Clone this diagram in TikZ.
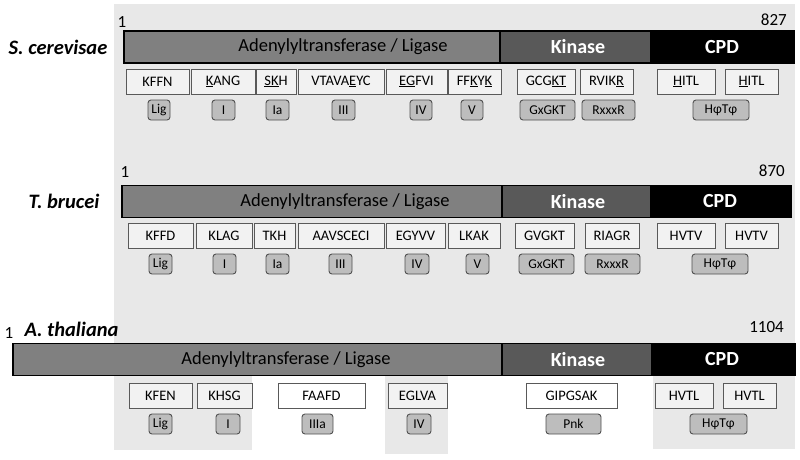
\documentclass[tikz,border=0pt]{standalone}
\usepackage{fontspec}
\setmainfont{Carlito}
\definecolor{bggrey}{HTML}{E8E8E8}
\definecolor{motiffill}{HTML}{F2F2F2}
\definecolor{motifline}{HTML}{595959}
\definecolor{badgefill}{HTML}{BDBDBD}
\definecolor{badgeline}{HTML}{505050}
\definecolor{ligfill}{HTML}{808080}
\definecolor{kinfill}{HTML}{595959}
\begin{document}
\begin{tikzpicture}[x=1pt,y=-1pt,
    motif/.style={draw=motifline,fill=motiffill,line width=0.9pt,minimum height=25pt,inner sep=0pt,font=\fontsize{14.5}{14.5}\selectfont},
    badge/.style={draw=badgeline,fill=badgefill,line width=0.9pt,rounded corners=3pt,minimum height=20pt,inner sep=0pt,font=\fontsize{13.5}{13.5}\selectfont},
    dom/.style={draw=black,line width=1.8pt,minimum height=32pt,inner sep=0pt},
    domtext/.style={font=\fontsize{18.5}{18.5}\selectfont},
    domtextw/.style={text=white,font=\bfseries\fontsize{20}{20}\selectfont},
    species/.style={font=\bfseries\itshape\fontsize{20.5}{20.5}\selectfont},
    num/.style={inner sep=0pt,font=\fontsize{17}{17}\selectfont}]
\useasboundingbox (0,0) rectangle (800,459);
% grey panels
\fill[bggrey] (114,4) rectangle (795,343);
\fill[bggrey] (114,376) rectangle (252,450);
\fill[bggrey] (385,376) rectangle (448,454);
\fill[bggrey] (653,376) rectangle (795,449);

% S. cerevisae
\def\yb{47} \def\ym{81.5} \def\yg{110}
\node[species] (scname) at (58,\yb) {S. cerevisae};
\node[num] (scstart) at (122,22) {1};
\node[num,anchor=east] (scend) at (787,20) {827};
\node[dom,fill=ligfill,minimum width=376pt] (sclig) at (312,\yb) {};
\node[dom,fill=kinfill,minimum width=151pt] (sckin) at (575.5,\yb) {};
\node[dom,fill=black,minimum width=143pt] (sccpd) at (722.5,\yb) {};
\node[domtext] (scligt) at (343,\yb) {Adenylyltransferase / Ligase};
\node[domtextw] (sckint) at (578,\yb) {Kinase};
\node[domtextw] (sccpdt) at (722,\yb) {CPD};
\foreach \n/\xa/\xb/\t in {m1/126/189/KFFN, m2/191/255/{\underline{K}ANG}, m3/256/296/{\underline{SK}H},
    m4/298/384/{VTAVA\underline{E}YC}, m5/386/447/{\underline{EG}FVI}, m6/448/501/{FF\underline{K}Y\underline{K}},
    m7/517/575/{GCG\underline{KT}}, m8/580/633/{RVIK\underline{R}}, m9/657/715/{\underline{H}ITL}, m10/725/778/{\underline{H}ITL}}
  \node[motif,minimum width={(\xb-\xa)*1pt}] (sc\n) at ({(\xa+\xb)/2},\ym) {\t};
\foreach \n/\xa/\xb/\t in {g1/148/170/Lig, g2/212/235/I, g3/266/289/Ia, g4/332/355/III, g5/410/432/IV,
    g6/461/483/V, g7/520/575/GxGKT, g8/582/635/RxxxR, g9/693/749/HφTφ}
  \node[badge,minimum width={(\xb-\xa)*1pt}] (sc\n) at ({(\xa+\xb)/2},\yg) {\t};

% T. brucei
\def\yb{201.5} \def\ym{235.5} \def\yg{264}
\node[species] (tbname) at (64,\yb) {T. brucei};
\node[num] (tbstart) at (125,172) {1};
\node[num,anchor=east] (tbend) at (785,171) {870};
\node[dom,fill=ligfill,minimum width=380pt] (tblig) at (312,\yb) {};
\node[dom,fill=kinfill,minimum width=149pt] (tbkin) at (576.5,\yb) {};
\node[dom,fill=black,minimum width=140pt] (tbcpd) at (721,\yb) {};
\node[domtext] (tbligt) at (345,\yb) {Adenylyltransferase / Ligase};
\node[domtextw] (tbkint) at (578,\yb) {Kinase};
\node[domtextw] (tbcpdt) at (720,\yb) {CPD};
\foreach \n/\xa/\xb/\t in {m1/128/193/KFFD, m2/196/252/KLAG, m3/254/295/TKH, m4/298/384/AAVSCECI,
    m5/386/445/EGYVV, m6/448/500/LKAK, m7/515/574/GVGKT, m8/585/639/RIAGR, m9/657/715/HVTV, m10/725/778/HVTV}
  \node[motif,minimum width={(\xb-\xa)*1pt}] (tb\n) at ({(\xa+\xb)/2},\ym) {\t};
\foreach \n/\xa/\xb/\t in {g1/149/172/Lig, g2/213/236/I, g3/266/289/Ia, g4/329/352/III, g5/405/429/IV,
    g6/466/489/V, g7/519/574/GxGKT, g8/585/640/RxxxR, g9/692/748/HφTφ}
  \node[badge,minimum width={(\xb-\xa)*1pt}] (tb\n) at ({(\xa+\xb)/2},\yg) {\t};

% A. thaliana
\def\yb{359.5} \def\ym{395.5} \def\yg{424}
\node[species,anchor=west] (atname) at (21,329) {A. thaliana};
\node[num] (atstart) at (9,333) {1};
\node[num,anchor=east] (atend) at (784,327) {1104};
\node[dom,fill=ligfill,minimum width=489pt] (atlig) at (257.5,\yb) {};
\node[dom,fill=kinfill,minimum width=150pt] (atkin) at (577,\yb) {};
\node[dom,fill=black,minimum width=143pt] (atcpd) at (723.5,\yb) {};
\node[domtext] (atligt) at (286,\yb) {Adenylyltransferase / Ligase};
\node[domtextw] (atkint) at (578,\yb) {Kinase};
\node[domtextw] (atcpdt) at (722,\yb) {CPD};
\foreach \n/\xa/\xb/\t/\c in {m1/129/192/KFEN/motiffill, m2/197/252/KHSG/motiffill, m3/278/365/FAAFD/white,
    m4/388/447/EGLVA/motiffill, m5/526/617/GIPGSAK/white, m6/655/713/HVTL/motiffill, m7/723/776/HVTL/motiffill}
  \node[motif,fill=\c,minimum width={(\xb-\xa)*1pt}] (at\n) at ({(\xa+\xb)/2},\ym) {\t};
\foreach \n/\xa/\xb/\t in {g1/149/172/Lig, g2/216/240/I, g3/302/333/IIIa, g4/407/431/IV,
    g5/546/601/Pnk, g6/690/747/HφTφ}
  \node[badge,minimum width={(\xb-\xa)*1pt}] (at\n) at ({(\xa+\xb)/2},\yg) {\t};
\end{tikzpicture}
\end{document}
